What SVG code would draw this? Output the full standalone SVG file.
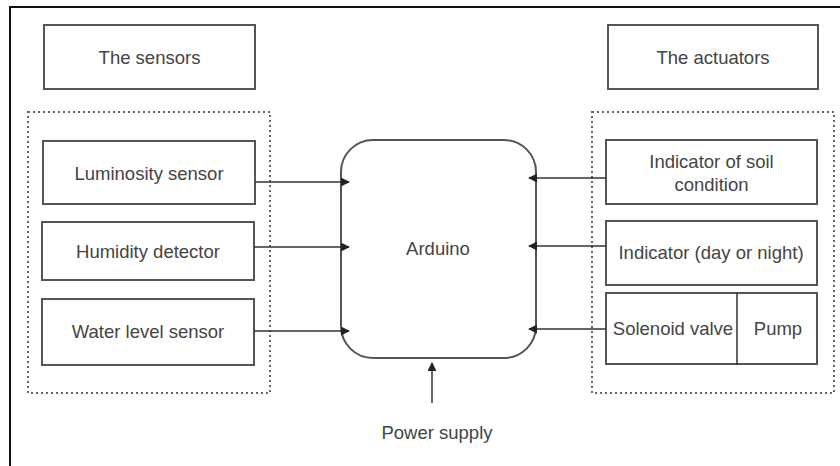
<svg xmlns="http://www.w3.org/2000/svg" width="840" height="466" viewBox="0 0 840 466">
<defs>
<style>
.box{fill:#fff;stroke:#555;stroke-width:2}
.dash{fill:none;stroke:#666;stroke-width:2;stroke-dasharray:2 3}
.lbl{font-family:"Liberation Sans",Arial,sans-serif;font-size:18.5px;fill:#444;text-anchor:middle;dominant-baseline:central}
.con{stroke:#333;stroke-width:1.5;fill:none}
</style>
<marker id="ah" viewBox="0 0 10 10" refX="9" refY="5" markerWidth="9" markerHeight="9" markerUnits="userSpaceOnUse" orient="auto">
<path d="M0,0 L10,5 L0,10 z" fill="#222"/>
</marker>
</defs>
<rect width="840" height="466" fill="#fff"/>
<path d="M10,466 V7 H840" fill="none" stroke="#111" stroke-width="2"/>
<rect class="dash" x="28" y="112" width="242" height="281"/>
<rect class="dash" x="592" y="112" width="242" height="281"/>
<g id="sensors-title"><rect class="box" x="44" y="25" width="211" height="64"/><text class="lbl" x="149.5" y="57">The sensors</text></g>
<g id="actuators-title"><rect class="box" x="608" y="25" width="210" height="64"/><text class="lbl" x="713" y="57">The actuators</text></g>
<g id="luminosity"><rect class="box" x="43" y="141" width="212" height="63"/><text class="lbl" x="149" y="173">Luminosity sensor</text></g>
<g id="humidity"><rect class="box" x="42" y="222" width="212" height="58"/><text class="lbl" x="148" y="251">Humidity detector</text></g>
<g id="water"><rect class="box" x="42" y="299" width="212" height="66"/><text class="lbl" x="148" y="331">Water level sensor</text></g>
<g id="arduino"><rect class="box" x="341" y="140" width="195" height="218" rx="32" ry="32"/><text class="lbl" x="438" y="248">Arduino</text></g>
<g id="soil"><rect class="box" x="606" y="140" width="211" height="64"/><text class="lbl" x="711.5" y="161">Indicator of soil</text><text class="lbl" x="711.5" y="184">condition</text></g>
<g id="daynight"><rect class="box" x="606" y="221" width="211" height="64"/><text class="lbl" x="711" y="252">Indicator (day or night)</text></g>
<g id="solenoid-pump"><rect class="box" x="606" y="293" width="211" height="71"/><line x1="737" y1="293" x2="737" y2="365" stroke="#333" stroke-width="1.5"/><text class="lbl" x="673" y="328">Solenoid valve</text><text class="lbl" x="778" y="328">Pump</text></g>
<g id="power"><text class="lbl" x="437" y="432">Power supply</text></g>
<g id="connectors">
<line class="con" x1="255" y1="182" x2="349" y2="182" marker-end="url(#ah)"/>
<line class="con" x1="254" y1="247" x2="349" y2="247" marker-end="url(#ah)"/>
<line class="con" x1="254" y1="331" x2="349" y2="331" marker-end="url(#ah)"/>
<line class="con" x1="606" y1="178" x2="529" y2="178" marker-end="url(#ah)"/>
<line class="con" x1="606" y1="246" x2="529" y2="246" marker-end="url(#ah)"/>
<line class="con" x1="606" y1="329" x2="529" y2="329" marker-end="url(#ah)"/>
<line class="con" x1="432" y1="403" x2="432" y2="363" marker-end="url(#ah)"/>
</g>
</svg>
